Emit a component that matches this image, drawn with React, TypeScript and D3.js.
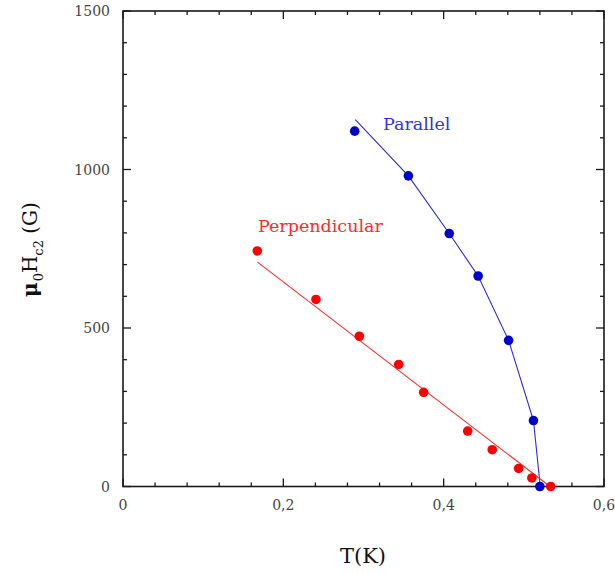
import React from "react";
import * as d3 from "d3";

const parallelT = [0.289, 0.356, 0.407, 0.443, 0.481, 0.512, 0.52];
const parallelH = [1121, 980, 798, 664, 461, 208, 0];
const parallelFitT = [0.2898, 0.356, 0.407, 0.443, 0.481, 0.512, 0.5205];
const parallelFitH = [1157, 980, 798, 664, 461, 208, 0];

const perpT = [0.1675, 0.2407, 0.2948, 0.3439, 0.375, 0.43, 0.4606, 0.4935, 0.51, 0.5335];
const perpH = [743, 590, 474, 385, 297, 175, 116, 57, 27, 0];
const perpFitT = [0.1678, 0.5326];
const perpFitH = [708, 0];

const xMajorTicks = [0, 0.2, 0.4, 0.6];
const yMajorTicks = [0, 500, 1000, 1500];

const W = 615;
const H = 574;

export default function App() {
  const x = d3.scaleLinear().domain([0, 0.6]).range([123, 604]);
  const y = d3.scaleLinear().domain([0, 1500]).range([486.5, 11]);
  const xMinor = d3.range(0, 0.6001, 0.04).filter((v) => !xMajorTicks.some((m) => Math.abs(m - v) < 1e-6));
  const yMinor = d3.range(0, 1501, 100).filter((v) => !yMajorTicks.includes(v));
  const line = d3
    .line<[number, number]>()
    .x((d) => x(d[0]))
    .y((d) => y(d[1]));
  const parFit = parallelFitT.map((t, i) => [t, parallelFitH[i]] as [number, number]);
  const perFit = perpFitT.map((t, i) => [t, perpFitH[i]] as [number, number]);
  const fmt = (v: number) => (v === 0 ? "0" : d3.format(".1f")(v).replace(".", ","));
  const [x0, x1] = x.range();
  const [y0, y1] = y.range();
  const serif = "'DejaVu Serif', serif";
  const axisColor = "#1a1a1a";
  return (
    <svg width={W} height={H} style={{ position: "absolute", left: 0, top: 0, background: "#fff" }} fontFamily={serif}>
      <rect x={0} y={0} width={W} height={H} fill="#fff" />
      {/* ticks */}
      <g stroke={axisColor} strokeWidth={1.3}>
        {xMajorTicks.map((v) => (
          <g key={"xm" + v}>
            <line x1={x(v)} x2={x(v)} y1={y0} y2={y0 - 8} />
            <line x1={x(v)} x2={x(v)} y1={y1} y2={y1 + 8} />
          </g>
        ))}
        {xMinor.map((v) => (
          <g key={"xn" + v}>
            <line x1={x(v)} x2={x(v)} y1={y0} y2={y0 - 4} />
            <line x1={x(v)} x2={x(v)} y1={y1} y2={y1 + 4} />
          </g>
        ))}
        {yMajorTicks.map((v) => (
          <g key={"ym" + v}>
            <line x1={x0} x2={x0 + 8} y1={y(v)} y2={y(v)} />
            <line x1={x1} x2={x1 - 8} y1={y(v)} y2={y(v)} />
          </g>
        ))}
        {yMinor.map((v) => (
          <g key={"yn" + v}>
            <line x1={x0} x2={x0 + 4} y1={y(v)} y2={y(v)} />
            <line x1={x1} x2={x1 - 4} y1={y(v)} y2={y(v)} />
          </g>
        ))}
      </g>
      <rect x={x0} y={y1} width={x1 - x0} height={y0 - y1} fill="none" stroke={axisColor} strokeWidth={1.6} />
      {/* tick labels */}
      <g fill="#444" fontSize={14}>
        {xMajorTicks.map((v) => (
          <text key={"xl" + v} x={x(v)} y={510} textAnchor="middle">
            {fmt(v)}
          </text>
        ))}
        {yMajorTicks.map((v) => (
          <text key={"yl" + v} x={110} y={y(v) + 5} textAnchor="end">
            {v}
          </text>
        ))}
      </g>
      {/* axis titles */}
      <text x={363} y={563} textAnchor="middle" fontSize={21} fill="#111">
        T(K)
      </text>
      <text transform="translate(37,297) rotate(-90)" fontSize={20} fill="#111">
        <tspan fontWeight="bold">μ</tspan>
        <tspan fontSize={13} dy={6} dx={1}>0</tspan>
        <tspan dy={-6}>H</tspan>
        <tspan fontSize={13} dy={6}>c2</tspan>
        <tspan dy={-6}> (G)</tspan>
      </text>
      {/* fit lines */}
      <path d={line(parFit) || ""} fill="none" stroke="#2b2bdd" strokeWidth={1.1} />
      <path d={line(perFit) || ""} fill="none" stroke="#ff2a2a" strokeWidth={1.1} />
      {/* points */}
      <g fill="#0000cc">
        {parallelT.map((t, i) => (
          <circle key={"p" + i} cx={x(t)} cy={y(parallelH[i])} r={4.8} />
        ))}
      </g>
      <g fill="#ff0000">
        {perpT.map((t, i) => (
          <circle key={"q" + i} cx={x(t)} cy={y(perpH[i])} r={4.8} />
        ))}
      </g>
      {/* labels */}
      <text x={383} y={129.5} fontSize={17.5} fill="#3535d0">
        Parallel
      </text>
      <text x={258} y={232} fontSize={17.5} fill="#ff2a2a">
        Perpendicular
      </text>
    </svg>
  );
}
